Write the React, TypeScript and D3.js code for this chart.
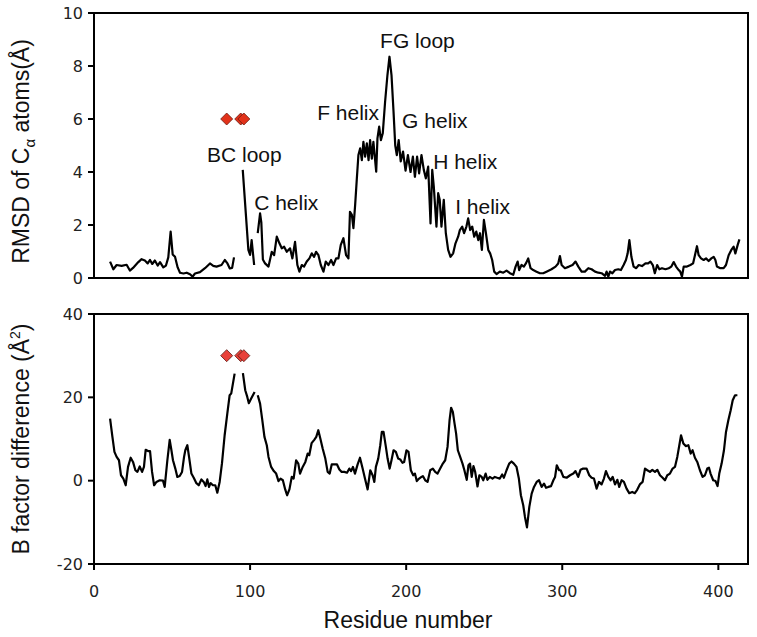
import React from "react";
import * as d3 from "d3";

// ---- Data ----
const rmsdResidues = [
  10.3, 12.4, 14.5, 17.7, 20.9, 23, 25, 28.4, 30.5, 32.6, 34.4, 35.9, 37.3, 39, 40.8, 42.3, 44.4, 46.1, 47.6, 49.1,
  50.4, 51.9, 53.6, 55.1, 57.3, 59.4, 61.5, 63.2, 64.7, 67.9, 71.1, 74.3, 76.4, 78.5, 81.7, 83.8, 85.5, 87, 88.5, 89.7,
  92, 95.3, 98.9, 100, 101, 102.6, 103.8, 104.9, 106.4, 107.2, 108.2, 109.6, 111.8, 113.9, 115.4, 117.1, 118.8, 120.3,
  121.8, 123.5, 125.6, 127.1, 128.8, 130.3, 131.6, 133.1, 134.6, 136.3, 138, 139.5, 141, 142.3, 143.8, 145.3, 147,
  148.5, 150.2, 151.9, 153.4, 155.1, 156.6, 158.1, 159.8, 161.5, 163, 164, 165.2, 166.2, 167.3, 168.4, 169.4, 170.5,
  171.6, 172.6, 173.7, 174.8, 175.9, 176.9, 178, 179, 180.8, 181.6, 182.7, 183.8, 185, 186.5, 188, 189.3, 190.6, 191.9,
  193, 194, 195.2, 196.5, 198, 199.6, 201.1, 202.8, 204.3, 205.6, 207, 208.3, 209.8, 211.3, 212.6, 214.1, 215.6, 216.7,
  217.7, 219.4, 220.5, 221.5, 222.6, 224.1, 225.4, 226.9, 228.4, 230.1, 231.6, 233.3, 234.4, 235.9, 237.1, 238.6,
  239.7, 241, 242.3, 243.6, 244.9, 246.2, 247.3, 248.5, 249.8, 251.1, 252.6, 253.8, 255.1, 256.4, 257.9, 260, 262.2,
  264.3, 266.5, 268.6, 270.1, 271.4, 272.4, 273.9, 275.4, 276.7, 278.2, 279.7, 281.4, 283.5, 285.7, 287.8, 289.9,
  293.1, 295.7, 297.4, 298.5, 299.6, 301.7, 304.3, 306.6, 308.5, 310.3, 312.4, 314.5, 316.7, 318.8, 321, 323.1, 325.2,
  327.4, 328.4, 329.5, 330.6, 332.1, 333.8, 335.9, 337.6, 339.3, 340.8, 341.9, 343, 344.3, 345.7, 347.4, 349, 351.1,
  353.3, 355, 356.5, 358, 359.3, 360.8, 362.2, 363.9, 366.1, 368.2, 369.9, 371.4, 372.9, 374.6, 375.6, 376.7, 377.8,
  379.9, 382.1, 383.8, 385.3, 386.3, 387.4, 388.9, 390.6, 392.1, 393.8, 395.5, 397, 398.1, 399.1, 401.3, 403.4, 404.9,
  406.6, 408.3, 409.8, 410.9, 412.4, 413.5,
];
const rmsdValues: (number | null)[] = [
  0.62, 0.33, 0.49, 0.46, 0.5, 0.28, 0.38, 0.6, 0.71, 0.66, 0.55, 0.68, 0.53, 0.66, 0.47, 0.6, 0.4, 0.47, 0.78, 1.75,
  0.89, 0.8, 0.4, 0.2, 0.17, 0.2, 0.14, 0.05, 0.17, 0.22, 0.37, 0.55, 0.46, 0.43, 0.49, 0.68, 0.55, 0.36, 0.38, 0.78,
  null, 4.08, 1.06, 0.87, 1.43, 0.49, null, 1.69, 2.44, 2.1, 0.7, 0.55, 0.43, 0.99, 0.86, 1.56, 1.31, 1.12,
  1.18, 0.99, 1.12, 0.74, 1.36, 0.49, 0.24, 0.49, 0.43, 0.62, 0.74, 0.93, 0.8, 0.99, 0.86, 0.49, 0.24,
  0.62, 0.49, 0.68, 0.49, 0.74, 0.74, 1.25, 1.5, 0.86, 0.74, 2.5, 2.38, 1.88, 2.75, 3.76, 4.64, 4.89,
  4.45, 5.14, 4.58, 5.08, 4.45, 5.2, 4.5, 5.14, 4.01, 5.27, 5.71, 5.2, 5.46, 6.65, 7.66, 8.35, 7.66, 6.28,
  5.0, 4.64, 5.2, 4.4, 4.77, 4.05, 4.64, 4.0, 4.58, 3.82, 4.58, 3.95, 4.64, 4.08, 3.76, 4.2, 2.06, 4.08,
  3.45, 1.94, 3.2, 2.95, 1.94, 2.95, 1.69, 1.06, 0.8, 0.93, 1.31, 1.56, 1.81, 1.94, 1.69, 1.94,
  2.25, 1.81, 1.94, 1.56, 1.75, 1.43, 1.69, 1.06, 2.19, 1.69, 1.06, 0.93, 0.68, 0.24, 0.15, 0.24, 0.2,
  0.28, 0.18, 0.12, 0.43, 0.62, 0.3, 0.49, 0.43, 0.55, 0.74, 0.37, 0.3, 0.24, 0.18, 0.18, 0.24,
  0.33, 0.43, 0.55, 0.83, 0.49, 0.37, 0.43, 0.49, 0.62, 0.43, 0.24, 0.24, 0.37, 0.33, 0.24, 0.2, 0.18,
  0.08, 0.24, 0.05, 0.24, 0.18, 0.3, 0.33, 0.3, 0.49, 0.68, 0.93, 1.43, 0.8, 0.43, 0.37, 0.49, 0.45,
  0.55, 0.55, 0.62, 0.49, 0.18, 0.49, 0.33, 0.37, 0.33, 0.37, 0.43, 0.6, 0.43, 0.3, 0.24, 0.05, 0.43,
  0.43, 0.49, 0.55, 0.93, 1.2, 0.86, 0.74, 0.68, 0.74, 0.64, 0.74, 0.8, 0.68, 0.43, 0.37, 0.37, 0.49,
  0.86, 1.06, 1.18, 0.93, 1.25, 1.46,
];

const bfacResidues = [
  10.3, 11.8, 13.1, 14.5, 16, 17.3, 18.8, 20.3, 21.8, 23.5, 25, 26.5, 27.8, 29.3, 30.8, 32, 33.1, 34.6, 35.9, 37.2,
  38.5, 40, 42.1, 44.2, 45.3, 47, 48.5, 49.6, 50.6, 52.1, 53.4, 54.9, 56.4, 57.7, 58.5, 59.8, 60.9, 62.4, 63.9, 65.6,
  67.1, 68.8, 70.3, 71.5, 72.6, 73.7, 74.7, 76.2, 77.7, 79, 80.5, 82, 83.7, 85.4, 86.9, 87.9, 89, 90.1,
  92.5, 95.4, 96.9, 98.2, 99.2, 100.7, 102.9, 103.9, 104.9, 106.4, 107.7, 109.2, 110.7, 111.8, 113.5, 115.2, 116.7,
  118.2, 119.5, 121, 122.5, 123.7, 125.2, 126.7, 127.9, 129.5, 130.9, 132, 133.7, 135.4, 136.9, 137.9, 139.4, 141.1,
  142.4, 143.7, 145, 146.5, 148.2, 149.7, 151, 152.3, 154, 155.7, 157.2, 158.7, 160.4, 162.1, 163.6, 164.7, 165.9,
  167.2, 168.9, 170.4, 172.1, 173.6, 175.3, 177, 178.5, 179.6, 180.6, 182.1, 183.4, 184.4, 185.5, 187, 188.1, 189.4,
  190.6, 191.9, 193.4, 194.9, 196.2, 197.6, 198.7, 200.2, 201.5, 203, 204.5, 205.6, 206.8, 208.3, 209.8, 210.7,
  212.2, 213.7, 215.4, 217.1, 218.6, 220.1, 221.8, 223.5, 225, 226.5, 227.8, 228.8, 229.9, 231, 232, 233.1, 234.6,
  236.1, 237.3, 238.8, 239.9, 240.9, 242, 243.1, 244.2, 245.7, 246.9, 248.4, 249.4, 250.9, 252, 253.6, 255.3, 256.8,
  258.3, 260, 261.5, 262.6, 264.3, 266, 267.5, 269, 270.7, 272.2, 273.5, 275, 276.1, 277.4, 278.9, 280.4, 281.9,
  283.6, 285.1, 286.8, 288.3, 289.6, 291.1, 292.8, 294.3, 295.4, 296.5, 298, 299, 300.7, 302.8, 305, 307.1, 308.5,
  310.2, 311.7, 313.4, 315.6, 317.3, 318.8, 320.3, 322, 323.5, 325.2, 326.7, 328, 329.5, 331, 332.3, 333.8, 335.3,
  336.5, 338, 339.5, 341.2, 342.9, 344.8, 346.5, 348, 349.7, 351.5, 353, 354.5, 356.2, 357.7, 359.4, 360.9, 362.6,
  364.3, 365.8, 367.3, 369, 370.7, 372.2, 373.7, 375, 376.1, 377.6, 379.1, 380.8, 382.3, 383.5, 385, 386.5, 388.2,
  389.9, 391.4, 392.9, 394, 395, 396.7, 398.2, 399.5, 400.6, 402.1, 403.6, 404.9, 406.4, 407.9, 409.2, 410.7, 412.2,
];
const bfacValues: (number | null)[] = [
  14.9, 10.5, 6.9, 5.7, 4.9, 1.3, 0.5, -1.1, 3.3, 5.5, 4.5, 2.5, 2.1, 3.4, 2.1, 3.3, 7.4, 7.1, 7.1, 2.1,
  -1.1, -0.3, 0.1, 0, -1.5, 4.9, 9.8, 7.3, 4.9, 2.9, 0.9, 1.1, 2.1, 5.7, 7.3, 8.5, 5.7, 1.7, 0.7, -0.6,
  -1.1, 0.3, -0.3, -1.3, 0.3, -1.5, -0.6, -1.1, -1.1, -2.9, -0.3, 4.2, 10.9, 16.1, 20.5, 20.9, 23.3, 25.7,
  null, 25.8, 21.7, 20.1, 18.6, 19.7, 21.3, null, 20.5, 18.5, 14.9, 10.5, 8.5, 5.7, 3.3, 2.3, 1.7,
  -0.1, 0.5, 0.1, -2.1, -3.5, -2.1, 0.9, 0.5, 4.9, 4.1, 1.7, 3.3, 4.5, 6.5, 6.1, 9.0, 9.8,
  10.5, 12.1, 10.1, 7.7, 5.3, 2.1, 1.7, 3.9, 3.9, 3.9, 2.7, 2.1, 2.1, 1.9, 2.9, 2.3, 3.3,
  1.7, 3.9, 5.5, 2.9, 0.5, -2.1, 2.5, 1.3, -0.3, 3.3, 5.3, 8.5, 11.7, 11.7, 8.1, 5.3, 2.9,
  4.9, 7.3, 6.9, 5.3, 5.1, 4.3, 4.5, 7.3, 6.9, 2.5, 1.3, 1.7, -0.1, 0.5, 0.9, 1.1,
  0.1, -0.3, 2.5, 2.9, 2.1, 1.7, 2.9, 4.1, 4.9, 8.1, 14.5, 17.5, 16.5, 13.7, 11.3, 7.3, 5.7,
  4.1, 2.5, 0.2, 3.7, 4.1, 0.9, 3.5, 2.1, -1.4, 1.3, 0.9, 0.1, 1.7, 0.2, 0.9, 0.5, 0.9,
  0.7, 0.5, 1.5, 0.7, 2.5, 4.1, 4.6, 4.1, 3.3, 0.5, -3.5, -5.9, -8.7, -11.2, -6.3, -3.1, -1.5,
  -0.3, 0.1, -1.5, -0.7, -1.7, -1.5, -1.3, 0.1, 0.9, 3.7, 2.5, 2.5, 0.9, 0.7, 1.3, 1.7, 2.3,
  0.9, 2.6, 2.9, 2.9, 1.3, 0.7, 0.5, -1.9, -0.3, -0.9, 0.5, 2.3, 0.9, 0.1, 0.9, -0.9, 0.2,
  -1.5, 0.1, -0.3, -1.9, -3.0, -2.7, -3.0, -2.2, -0.9, -0.3, 2.9, 2.5, 2.1, 2.6, 2.1, 2.6, 1.3,
  0.7, 0.1, 1.3, 1.7, 2.9, 3.3, 5.7, 8.5, 10.9, 8.9, 8.3, 8.5, 6.5, 7.3, 5.5, 4.5, 2.5,
  0.9, 1.3, 2.9, 3.1, 1.7, 0.1, -0.1, -1.3, 1.7, 4.1, 7.3, 11.7, 14.5, 16.9, 19.3, 20.5, 20.5,
];

const markerResidues = [85, 94, 96];
const rmsdMarkerValue = 6;
const bfacMarkerValue = 30;

const annotationLabels = ["BC loop", "C helix", "F helix", "FG loop", "G helix", "H helix", "I helix"];
const annotationResidues = [72.4, 102.6, 143, 183.3, 197.4, 217.3, 231.4];
const annotationValues = [4.38, 2.55, 5.96, 8.68, 5.66, 4.11, 2.42];

const rmsdTicks = [0, 2, 4, 6, 8, 10];
const bfacTicks = [-20, 0, 20, 40];
const residueTicks = [0, 100, 200, 300, 400];

// ---- Layout ----
const W = 757;
const H = 637;
const left = 94;
const right = 748;
const top1 = 13;
const bot1 = 278;
const top2 = 314;
const bot2 = 564;

const tickFont = "'DejaVu Sans', Verdana, sans-serif";
const titleFont = "'Liberation Sans', Arial, sans-serif";

export default function App() {
  const x = d3.scaleLinear().domain([0, 419]).range([left, right]);
  const y1 = d3.scaleLinear().domain([0, 10]).range([bot1, top1]);
  const y2 = d3.scaleLinear().domain([-20, 40]).range([bot2, top2]);

  const rmsdData = rmsdResidues.map((r, i) => ({ r, v: rmsdValues[i] }));
  const bfacData = bfacResidues.map((r, i) => ({ r, v: bfacValues[i] }));

  const line1 = d3
    .line<{ r: number; v: number | null }>()
    .defined((d) => d.v !== null)
    .x((d) => x(d.r))
    .y((d) => y1(d.v as number));
  const line2 = d3
    .line<{ r: number; v: number | null }>()
    .defined((d) => d.v !== null)
    .x((d) => x(d.r))
    .y((d) => y2(d.v as number));

  const diamond = (cx: number, cy: number, s: number) =>
    `M${cx},${cy - s}L${cx + s},${cy}L${cx},${cy + s}L${cx - s},${cy}Z`;

  return (
    <svg
      width={W}
      height={H}
      style={{ position: "absolute", left: 0, top: 0, background: "#fff" }}
    >
      <rect x={0} y={0} width={W} height={H} fill="#fff" />

      {/* Top panel */}
      <path d={line1(rmsdData) || ""} fill="none" stroke="#000" strokeWidth={2.2} strokeLinejoin="round" />
      <rect x={left} y={top1} width={right - left} height={bot1 - top1} fill="none" stroke="#000" strokeWidth={2} />
      {rmsdTicks.map((t) => (
        <g key={"t1" + t}>
          <line x1={left - 6} x2={left} y1={y1(t)} y2={y1(t)} stroke="#000" strokeWidth={2} />
          <text x={left - 11} y={y1(t)} dy="0.36em" textAnchor="end" fontFamily={tickFont} fontSize={16} fill="#222">
            {t}
          </text>
        </g>
      ))}
      {markerResidues.map((r, i) => (
        <path key={"m1" + i} d={diamond(x(r), y1(rmsdMarkerValue), 6)} fill="#e2321a" stroke="#6b1a10" strokeWidth={0.8} />
      ))}
      {annotationLabels.map((lab, i) => (
        <text
          key={lab}
          x={x(annotationResidues[i])}
          y={y1(annotationValues[i])}
          fontFamily={titleFont}
          fontSize={21}
          fill="#111"
        >
          {lab}
        </text>
      ))}
      <text
        transform={`translate(29,${(top1 + bot1) / 2 + 6}) rotate(-90)`}
        textAnchor="middle"
        fontFamily={titleFont}
        fontSize={23}
        fill="#111"
      >
        RMSD of C
        <tspan fontSize={15} dy={6}>α</tspan>
        <tspan dy={-6}> atoms(Å)</tspan>
      </text>

      {/* Bottom panel */}
      <path d={line2(bfacData) || ""} fill="none" stroke="#000" strokeWidth={2.2} strokeLinejoin="round" />
      <rect x={left} y={top2} width={right - left} height={bot2 - top2} fill="none" stroke="#000" strokeWidth={2} />
      {bfacTicks.map((t) => (
        <g key={"t2" + t}>
          <line x1={left - 6} x2={left} y1={y2(t)} y2={y2(t)} stroke="#000" strokeWidth={2} />
          <text x={left - 11} y={y2(t)} dy="0.36em" textAnchor="end" fontFamily={tickFont} fontSize={16} fill="#222">
            {t}
          </text>
        </g>
      ))}
      {residueTicks.map((t) => (
        <g key={"tx" + t}>
          <line x1={x(t)} x2={x(t)} y1={bot2} y2={bot2 + 6} stroke="#000" strokeWidth={2} />
          <text x={x(t)} y={bot2 + 33} textAnchor="middle" fontFamily={tickFont} fontSize={16} fill="#222">
            {t}
          </text>
        </g>
      ))}
      {markerResidues.map((r, i) => (
        <path key={"m2" + i} d={diagonalSafe(diamond(x(r), y2(bfacMarkerValue), 6))} fill="#e8413a" stroke="#5a1a14" strokeWidth={0.8} />
      ))}
      <text
        transform={`translate(29,${(top2 + bot2) / 2}) rotate(-90)`}
        textAnchor="middle"
        fontFamily={titleFont}
        fontSize={23}
        fill="#111"
      >
        B factor difference (Å
        <tspan fontSize={14} dy={-9}>2</tspan>
        <tspan dy={9}>)</tspan>
      </text>
      <text x={408} y={628} textAnchor="middle" fontFamily={titleFont} fontSize={23} fill="#111">
        Residue number
      </text>
    </svg>
  );
}

function diagonalSafe(d: string) {
  return d;
}
